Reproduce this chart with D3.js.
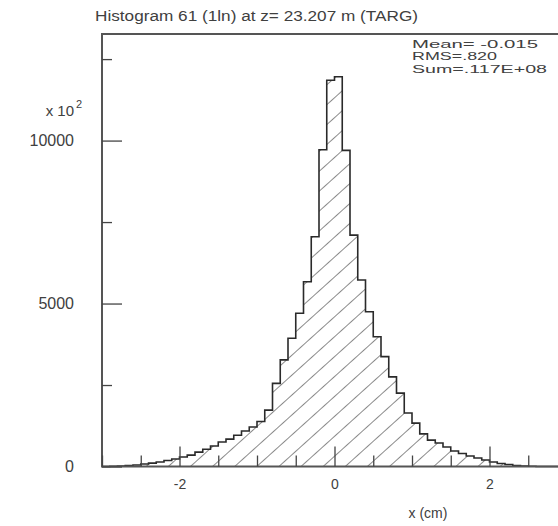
<!DOCTYPE html>
<html>
<head>
<meta charset="utf-8">
<script src="https://cdn.jsdelivr.net/npm/d3@7"></script>
<style>
  html, body { margin: 0; padding: 0; background: #fff; }
  svg { display: block; }
  text { font-family: "Liberation Sans", Arial, sans-serif; fill: #404040; }
</style>
</head>
<body>
<svg id="chart" width="558" height="526"></svg>
<script>
// ---------------- data ----------------
const titleText = "Histogram  61 (1ln) at z= 23.207 m (TARG)";
const xLabel = "x (cm)";
const yScaleLabel = "x 10";
const yScaleExp = "2";
const statsLines = ["Mean=  -0.015", "RMS=.820", "Sum=.117E+08"];

const xDomain = [-3, 3];
const yDomain = [0, 13270];
const binWidth = 0.1;
const binLowEdges = [
  -3.0, -2.9, -2.8, -2.7, -2.6, -2.5, -2.4, -2.3, -2.2, -2.1,
  -2.0, -1.9, -1.8, -1.7, -1.6, -1.5, -1.4, -1.3, -1.2, -1.1,
  -1.0, -0.9, -0.8, -0.7, -0.6, -0.5, -0.4, -0.3, -0.2, -0.1,
   0.0,  0.1,  0.2,  0.3,  0.4,  0.5,  0.6,  0.7,  0.8,  0.9,
   1.0,  1.1,  1.2,  1.3,  1.4,  1.5,  1.6,  1.7,  1.8,  1.9,
   2.0,  2.1,  2.2,  2.3,  2.4,  2.5,  2.6,  2.7,  2.8,  2.9
];
// counts (units of 10^2)
const counts = [
     0,    8,   15,   30,   45,   75,  105,  140,  185,  230,
   290,  350,  440,  530,  630,  750,  840,  960, 1090, 1210,
  1380, 1730, 2550, 3270, 3935, 4700, 5670, 7050, 9720, 11850,
 11960, 9700, 7100, 5720, 4750, 3980, 3370, 2750, 2250, 1640,
  1330, 1000,  810,  720,  600,  475,  400,  320,  260,  200,
   140,   92,   60,   32,   15,    6,    0,    0,    0,    0
];

const xMajorTicks = [-2, 0, 2];
const xMinorTicks = [-3, -2.5, -1.5, -1, -0.5, 0.5, 1, 1.5, 2.5, 3];
const yMajorTicks = [0, 5000, 10000];
const yMinorTicks = [2500, 7500, 12500];

// ---------------- drawing ----------------
const svg = d3.select("#chart");
const x = d3.scaleLinear().domain(xDomain).range([102, 567]);
const y = d3.scaleLinear().domain(yDomain).range([466.5, 34]);

// hatch pattern
const defs = svg.append("defs");
const pat = defs.append("pattern")
  .attr("id", "hatch")
  .attr("patternUnits", "userSpaceOnUse")
  .attr("width", 14.8).attr("height", 14.8)
  .attr("patternTransform", "rotate(48)");
pat.append("line")
  .attr("x1", 0).attr("y1", 0).attr("x2", 0).attr("y2", 14.8)
  .attr("stroke", "#3c3c3c").attr("stroke-width", 1.2);

// histogram points
const pts = [];
binLowEdges.forEach((lo, i) => {
  pts.push([lo, counts[i]]);
  pts.push([lo + binWidth, counts[i]]);
});

const area = d3.area()
  .x(d => x(d[0]))
  .y0(y(0))
  .y1(d => y(d[1]));
svg.append("path")
  .datum(pts)
  .attr("d", area)
  .attr("fill", "url(#hatch)");

const outline = [[pts[0][0], 0], ...pts, [pts[pts.length - 1][0], 0]];
svg.append("path")
  .datum(outline)
  .attr("d", d3.line().x(d => x(d[0])).y(d => y(d[1])))
  .attr("fill", "none")
  .attr("stroke", "#2a2a2a")
  .attr("stroke-width", 1.6)
  .attr("stroke-linejoin", "miter");

// frame
svg.append("rect")
  .attr("x", x(xDomain[0])).attr("y", y(yDomain[1]))
  .attr("width", x(xDomain[1]) - x(xDomain[0]))
  .attr("height", y(yDomain[0]) - y(yDomain[1]))
  .attr("fill", "none")
  .attr("stroke", "#555")
  .attr("stroke-width", 2);

// x axis ticks
const gxMinor = svg.append("g")
  .attr("transform", `translate(0,${y(0)})`)
  .call(d3.axisBottom(x).tickValues(xMinorTicks).tickSize(-11).tickFormat(""));
const gxMajor = svg.append("g")
  .attr("transform", `translate(0,${y(0)})`)
  .call(d3.axisBottom(x).tickValues(xMajorTicks).tickSize(-20).tickPadding(13)
        .tickFormat(d => d < 0 ? "-" + Math.abs(d) : String(d)));
[gxMinor, gxMajor].forEach(g => {
  g.select(".domain").remove();
  g.selectAll(".tick line").attr("stroke", "#444").attr("stroke-width", 1.3);
  g.selectAll(".tick text").attr("font-size", 14).attr("fill", "#404040")
    .attr("font-family", "Liberation Sans, Arial, sans-serif");
});

// y axis ticks
const gyMinor = svg.append("g")
  .attr("transform", `translate(${x(xDomain[0])},0)`)
  .call(d3.axisLeft(y).tickValues(yMinorTicks).tickSize(-10).tickFormat(""));
const gyMajor = svg.append("g")
  .attr("transform", `translate(${x(xDomain[0])},0)`)
  .call(d3.axisLeft(y).tickValues(yMajorTicks).tickSize(-20).tickPadding(28)
        .tickFormat(d => String(d)));
[gyMinor, gyMajor].forEach(g => {
  g.select(".domain").remove();
  g.selectAll(".tick line").attr("stroke", "#444").attr("stroke-width", 1.3);
  g.selectAll(".tick text").attr("font-size", 16).attr("fill", "#404040")
    .attr("font-family", "Liberation Sans, Arial, sans-serif");
});

// y scale factor label
svg.append("text")
  .attr("x", 74).attr("y", 116)
  .attr("text-anchor", "end")
  .attr("font-size", 15)
  .text(yScaleLabel);
svg.append("text")
  .attr("x", 76).attr("y", 108)
  .attr("font-size", 11)
  .text(yScaleExp);

// title
svg.append("text")
  .attr("x", 95).attr("y", 21)
  .attr("font-size", 14)
  .attr("textLength", 323)
  .attr("lengthAdjust", "spacingAndGlyphs")
  .text(titleText);

// stats box
const statsWidths = [126, 85, 135];
svg.selectAll("text.stats")
  .data(statsLines)
  .join("text")
  .attr("class", "stats")
  .attr("x", 412)
  .attr("y", (d, i) => 47.5 + i * 12.6)
  .attr("font-size", 11.5)
  .attr("textLength", (d, i) => statsWidths[i])
  .attr("lengthAdjust", "spacingAndGlyphs")
  .text(d => d);

// x label
svg.append("text")
  .attr("x", 428).attr("y", 518)
  .attr("text-anchor", "middle")
  .attr("font-size", 14)
  .text(xLabel);
</script>
</body>
</html>
